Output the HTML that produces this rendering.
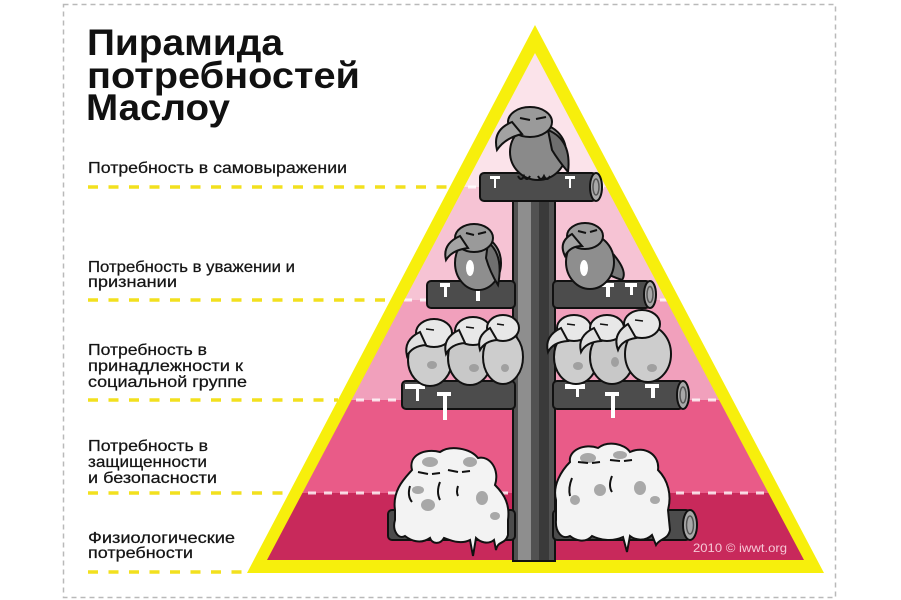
<!DOCTYPE html>
<html><head><meta charset="utf-8">
<style>
html,body{margin:0;padding:0;background:#fff;}
svg{display:block;}
</style></head>
<body>
<svg width="901" height="600" viewBox="0 0 901 600" xmlns="http://www.w3.org/2000/svg">
<rect width="901" height="600" fill="#fff"/>
<!-- frame -->
<rect x="63.5" y="4.5" width="772" height="593" fill="none" stroke="#b9b9b9" stroke-width="1.5" stroke-dasharray="5 4"/>

<!-- title -->
<g font-family="'Liberation Sans', 'DejaVu Sans', sans-serif" font-weight="bold" font-size="37" fill="#111">
<text x="87" y="55" textLength="196" lengthAdjust="spacingAndGlyphs">Пирамида</text>
<text x="87" y="88" textLength="273" lengthAdjust="spacingAndGlyphs">потребностей</text>
<text x="86" y="120" textLength="144" lengthAdjust="spacingAndGlyphs">Маслоу</text>
</g>

<!-- labels -->
<g font-family="'Liberation Sans', 'DejaVu Sans', sans-serif" font-size="16" fill="#151515" stroke="#151515" stroke-width="0.25">
<text x="88" y="173" textLength="259" lengthAdjust="spacingAndGlyphs">Потребность в самовыражении</text>
<text x="88" y="272" textLength="207" lengthAdjust="spacingAndGlyphs">Потребность в уважении и</text>
<text x="88" y="287" textLength="89" lengthAdjust="spacingAndGlyphs">признании</text>
<text x="88" y="355" textLength="119" lengthAdjust="spacingAndGlyphs">Потребность в</text>
<text x="88" y="371" textLength="155" lengthAdjust="spacingAndGlyphs">принадлежности к</text>
<text x="88" y="387" textLength="159" lengthAdjust="spacingAndGlyphs">социальной группе</text>
<text x="88" y="451" textLength="120" lengthAdjust="spacingAndGlyphs">Потребность в</text>
<text x="88" y="467" textLength="119" lengthAdjust="spacingAndGlyphs">защищенности</text>
<text x="88" y="483" textLength="129" lengthAdjust="spacingAndGlyphs">и безопасности</text>
<text x="88" y="543" textLength="147" lengthAdjust="spacingAndGlyphs">Физиологические</text>
<text x="88" y="558" textLength="105" lengthAdjust="spacingAndGlyphs">потребности</text>
</g>

<!-- yellow dashed leaders -->
<g stroke="#f2e01e" stroke-width="3.5" stroke-dasharray="10 10.5" fill="none">
<line x1="88" y1="187" x2="450" y2="187"/>
<line x1="88" y1="300" x2="391" y2="300"/>
<line x1="88" y1="400" x2="338" y2="400"/>
<line x1="88" y1="493" x2="289" y2="493"/>
<line x1="88" y1="572" x2="248" y2="572"/>
</g>

<!-- pyramid -->
<polygon points="535,25 247,573 824,573" fill="#f7ef0c"/>
<clipPath id="inner"><polygon points="535,53 267,560 804,560"/></clipPath>
<g clip-path="url(#inner)">
<rect x="240" y="40" width="600" height="147" fill="#fbe3ea"/>
<rect x="240" y="187" width="600" height="113" fill="#f6c3d4"/>
<rect x="240" y="300" width="600" height="100" fill="#f1a0bc"/>
<rect x="240" y="400" width="600" height="93" fill="#e95b88"/>
<rect x="240" y="493" width="600" height="70" fill="#c8295b"/>
<g stroke="#fff" stroke-opacity="0.8" stroke-width="3" stroke-dasharray="8 8">
<line x1="260" y1="187" x2="820" y2="187"/>
<line x1="260" y1="300" x2="820" y2="300"/>
<line x1="260" y1="400" x2="820" y2="400"/>
<line x1="260" y1="493" x2="820" y2="493"/>
</g>
</g>

<!-- trunk -->
<rect x="513" y="190" width="42" height="371" fill="#525252" stroke="#111" stroke-width="2"/>
<rect x="518" y="195" width="13" height="365" fill="#8e8e8e"/>
<rect x="539" y="195" width="10" height="365" fill="#3a3a3a"/>

<!-- logs -->
<g stroke="#111" stroke-width="2">
<rect x="480" y="173" width="116" height="28" rx="4" fill="#4c4c4c"/>
<ellipse cx="596" cy="187" rx="6" ry="14" fill="#a8a8a8"/>
<rect x="427" y="281" width="88" height="27" rx="4" fill="#4c4c4c"/>
<rect x="553" y="281" width="97" height="27" rx="4" fill="#4c4c4c"/>
<ellipse cx="650" cy="294.5" rx="6" ry="13.5" fill="#a8a8a8"/>
<rect x="402" y="381" width="113" height="28" rx="4" fill="#4c4c4c"/>
<rect x="553" y="381" width="130" height="28" rx="4" fill="#4c4c4c"/>
<ellipse cx="683" cy="395" rx="6" ry="14" fill="#a8a8a8"/>
<rect x="388" y="510" width="127" height="30" rx="4" fill="#4c4c4c"/>
<rect x="553" y="510" width="137" height="30" rx="4" fill="#4c4c4c"/>
<ellipse cx="690" cy="525" rx="7" ry="15" fill="#a8a8a8"/>
</g>
<g fill="none" stroke="#555" stroke-width="1.5">
<ellipse cx="596" cy="187" rx="3" ry="8"/>
<ellipse cx="650" cy="294.5" rx="3" ry="8"/>
<ellipse cx="683" cy="395" rx="3" ry="8"/>
<ellipse cx="690" cy="525" rx="3.5" ry="9"/>
</g>
<!-- snow on logs -->
<g fill="#fff">
<path d="M490,176 h10 v3 h-4 v9 h-2 v-9 h-4z"/>
<path d="M565,176 h10 v3 h-4 v9 h-2 v-9 h-4z"/>
<path d="M440,283 h10 v4 h-3 v10 h-3 v-10 h-4z"/>
<path d="M470,283 h14 v4 h-4 v14 h-4 v-14 h-6z"/>
<path d="M600,283 h14 v4 h-4 v10 h-4 v-10 h-6z"/>
<path d="M625,283 h12 v4 h-4 v8 h-3 v-8 h-5z"/>
<path d="M405,384 h20 v5 h-6 v12 h-3 v-12 h-11z"/>
<path d="M437,392 h14 v4 h-4 v24 h-4 v-24 h-6z"/>
<path d="M565,384 h20 v5 h-6 v8 h-3 v-8 h-11z"/>
<path d="M605,392 h14 v4 h-4 v22 h-4 v-22 h-6z"/>
<path d="M645,384 h14 v4 h-4 v10 h-4 v-10 h-6z"/>
</g>

<!-- top bird -->
<g stroke="#111" stroke-width="2">
<ellipse cx="538" cy="152" rx="28" ry="28" fill="#8a8a8a"/>
<path d="M548,130 Q572,140 568,172 Q558,160 552,150 Z" fill="#6e6e6e"/>
<ellipse cx="530" cy="122" rx="22" ry="15" fill="#9a9a9a"/>
<path d="M512,122 Q492,130 497,150 Q505,138 522,134 Z" fill="#a2a2a2"/>
<path d="M518,176 q3,6 6,0 q3,6 6,0 M538,176 q3,6 6,0 q3,6 6,0" fill="none"/>
</g>
<path d="M520,118 l10,2 M536,119 l10,-2" stroke="#111" stroke-width="2"/>

<!-- band 2 birds -->
<g stroke="#111" stroke-width="2">
<ellipse cx="478" cy="263" rx="23" ry="27" fill="#8e8e8e"/>
<path d="M488,242 Q504,255 498,285 Q490,272 486,258 Z" fill="#6f6f6f"/>
<ellipse cx="474" cy="238" rx="19" ry="14" fill="#9a9a9a"/>
<path d="M460,236 Q442,244 446,260 Q452,250 468,248 Z" fill="#a4a4a4"/>
<path d="M614,255 Q628,272 622,280 Q610,276 600,270 Z" fill="#7a7a7a"/>
<ellipse cx="590" cy="262" rx="24" ry="27" fill="#8e8e8e"/>
<ellipse cx="585" cy="236" rx="18" ry="13" fill="#9a9a9a"/>
<path d="M572,234 Q558,242 565,256 Q570,246 582,246 Z" fill="#a4a4a4"/>
</g>
<g fill="#fff">
<ellipse cx="470" cy="268" rx="4" ry="8"/>
<ellipse cx="584" cy="268" rx="4" ry="8"/>
</g>
<path d="M466,233 l8,2 M478,234 l8,-2 M578,231 l8,2 M590,232 l7,-2" stroke="#111" stroke-width="2"/>

<!-- band 3 birds -->
<g stroke="#111" stroke-width="2">
<ellipse cx="430" cy="360" rx="22" ry="26" fill="#cdcdcd"/>
<ellipse cx="434" cy="333" rx="18" ry="14" fill="#e8e8e8"/>
<path d="M420,332 Q403,340 407,356 Q412,346 426,345 Z" fill="#e0e0e0"/>
<ellipse cx="470" cy="358" rx="22" ry="27" fill="#c8c8c8"/>
<ellipse cx="473" cy="331" rx="18" ry="14" fill="#e8e8e8"/>
<path d="M459,330 Q442,338 446,354 Q451,344 465,343 Z" fill="#e0e0e0"/>
<ellipse cx="503" cy="357" rx="20" ry="27" fill="#cdcdcd"/>
<ellipse cx="503" cy="328" rx="16" ry="13" fill="#e8e8e8"/>
<path d="M490,328 Q476,336 480,350 Q485,341 497,340 Z" fill="#e0e0e0"/>

<ellipse cx="576" cy="357" rx="22" ry="27" fill="#cdcdcd"/>
<ellipse cx="574" cy="328" rx="17" ry="13" fill="#e8e8e8"/>
<path d="M561,328 Q544,336 548,352 Q553,342 568,341 Z" fill="#e0e0e0"/>
<ellipse cx="612" cy="357" rx="22" ry="27" fill="#c8c8c8"/>
<ellipse cx="607" cy="328" rx="17" ry="13" fill="#e8e8e8"/>
<path d="M594,328 Q577,336 581,352 Q586,342 601,341 Z" fill="#e0e0e0"/>
<ellipse cx="648" cy="354" rx="23" ry="28" fill="#cdcdcd"/>
<ellipse cx="642" cy="324" rx="18" ry="14" fill="#e8e8e8"/>
<path d="M628,324 Q612,334 618,350 Q622,340 636,338 Z" fill="#e0e0e0"/>
</g>
<g fill="#a0a0a0">
<ellipse cx="432" cy="365" rx="5" ry="4"/><ellipse cx="474" cy="368" rx="5" ry="4"/>
<ellipse cx="578" cy="366" rx="5" ry="4"/><ellipse cx="615" cy="362" rx="4" ry="5"/>
<ellipse cx="652" cy="368" rx="5" ry="4"/><ellipse cx="505" cy="368" rx="4" ry="4"/>
</g>
<g stroke="#111" stroke-width="1.5" fill="none">
<path d="M426,329 l8,1 M466,327 l8,1 M497,324 l7,1 M567,324 l8,1 M600,324 l8,1 M635,320 l8,1"/>
</g>

<!-- band 5 blobs -->
<g stroke="#111" stroke-width="2" fill="#f3f3f3">
<path d="M395,510 C392,490 405,478 412,470 C408,455 425,448 440,452 C450,445 470,448 478,458 C490,455 500,470 495,485 C505,495 510,505 508,520 L508,535 C505,545 498,540 496,550 L494,540 C488,545 480,542 476,538 L473,556 L470,540 C460,545 450,540 444,538 C440,545 432,544 430,538 C420,545 410,540 405,536 C398,540 392,530 395,520 Z"/>
<path d="M556,500 C552,485 562,470 570,462 C568,450 585,443 598,448 C608,440 625,444 630,452 C645,445 660,455 658,470 C668,480 672,495 668,510 L670,530 C668,540 660,538 656,545 L652,535 C645,542 635,540 630,536 L627,552 L623,537 C612,542 600,540 592,536 C585,544 575,540 570,536 C562,540 555,532 556,520 Z"/>
</g>
<g fill="#a8a8a8">
<ellipse cx="430" cy="462" rx="8" ry="5"/><ellipse cx="470" cy="462" rx="7" ry="5"/>
<ellipse cx="418" cy="490" rx="6" ry="4"/><ellipse cx="428" cy="505" rx="7" ry="6"/>
<ellipse cx="482" cy="498" rx="6" ry="7"/><ellipse cx="495" cy="516" rx="5" ry="4"/>
<ellipse cx="588" cy="458" rx="8" ry="5"/><ellipse cx="620" cy="455" rx="7" ry="4"/>
<ellipse cx="600" cy="490" rx="6" ry="6"/><ellipse cx="640" cy="488" rx="6" ry="7"/>
<ellipse cx="575" cy="500" rx="5" ry="5"/><ellipse cx="655" cy="500" rx="5" ry="4"/>
</g>
<g stroke="#111" stroke-width="2" fill="none">
<path d="M418,472 l10,2 M432,474 l8,-1 M448,470 l10,2 M462,472 l8,-1"/>
<path d="M410,486 q-3,10 2,16 M440,482 q-4,10 0,18 M458,486 q-2,6 0,10"/>
<path d="M578,462 l10,1 M592,463 l8,-1 M610,460 l10,1 M624,461 l8,-1"/>
<path d="M572,478 q-4,10 -2,18 M612,476 q-4,10 0,16"/>
</g>

<!-- copyright -->
<text x="693" y="552" font-family="'Liberation Sans', sans-serif" font-size="12" fill="#f6c8d6" textLength="94" lengthAdjust="spacingAndGlyphs">2010 © iwwt.org</text>
</svg>
</body></html>
